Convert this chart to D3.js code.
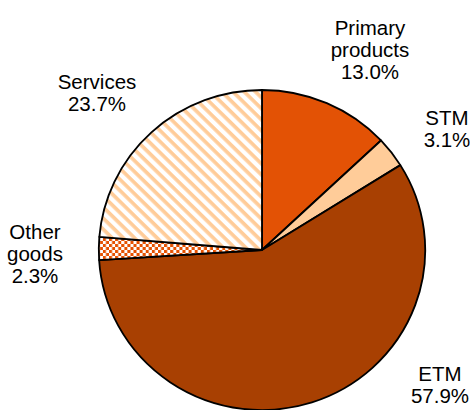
<!DOCTYPE html>
<html><head><meta charset="utf-8">
<script src="https://cdn.jsdelivr.net/npm/d3@7"></script>
<style>html,body{margin:0;padding:0;background:#fff;}svg{display:block;}</style>
</head><body>
<svg id="c" width="470" height="410"></svg>
<script>
const categories = ["Primary products", "STM", "ETM", "Other goods", "Services"];
const labelLines = [["Primary","products"],["STM"],["ETM"],["Other","goods"],["Services"]];
const values = [13.0, 3.1, 57.9, 2.3, 23.7];
const valueLabels = ["13.0%","3.1%","57.9%","2.3%","23.7%"];

// label layout (centres of label blocks)
const labelPos = [[370,50],[447,129],[440,385],[35,254],[97,93]];

const svg = d3.select("#c");
const defs = svg.append("defs");
const ps = defs.append("pattern").attr("id","stripes").attr("patternUnits","userSpaceOnUse")
  .attr("width",7.8).attr("height",7.8).attr("patternTransform","rotate(45)");
ps.append("rect").attr("width",7.8).attr("height",7.8).attr("fill","#fff");
ps.append("rect").attr("width",7.8).attr("height",3.6).attr("fill","#FFCC99");
const pc = defs.append("pattern").attr("id","checker").attr("patternUnits","userSpaceOnUse")
  .attr("width",6).attr("height",6);
pc.append("rect").attr("width",6).attr("height",6).attr("fill","#fff");
pc.append("rect").attr("width",3).attr("height",3).attr("fill","#E65100");
pc.append("rect").attr("x",3).attr("y",3).attr("width",3).attr("height",3).attr("fill","#E65100");

const fills = ["#E35205","#FFCC99","#A84002","url(#checker)","url(#stripes)"];

const cx = 262, cy = 250, r = 160;
const pie = d3.pie().sort(null).value(d => d)(values);
const arc = d3.arc().innerRadius(0).outerRadius(r);
const g = svg.append("g").attr("transform",`translate(${cx},${cy}) scale(1.02,1)`);
g.selectAll("path").data(pie).enter().append("path")
  .attr("d",arc).attr("fill",(d,i)=>fills[i])
  .attr("stroke","#000").attr("stroke-width",1.8).attr("stroke-linejoin","round");

const lh = 22, fs = 20.5;
const tg = svg.append("g").attr("font-family","Liberation Sans, Arial, sans-serif")
  .attr("font-size",fs).attr("fill","#000").attr("text-anchor","middle");
pie.forEach((d,i)=>{
  const [x,y] = labelPos[i];
  const lines = labelLines[i].concat([valueLabels[i]]);
  const y0 = y - (lines.length-1)*lh/2 + fs*0.36;
  const t = tg.append("text").attr("x",x).attr("y",y0);
  lines.forEach((s,k)=>t.append("tspan").attr("x",x).attr("y",y0+k*lh).text(s));
});
</script>
</body></html>
